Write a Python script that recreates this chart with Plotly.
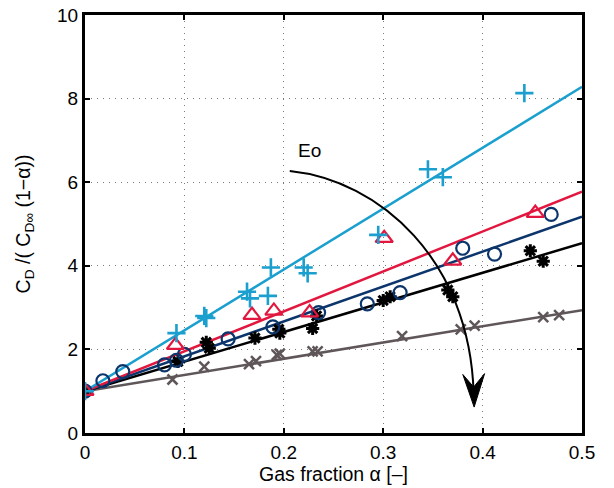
import plotly.graph_objects as go

# ---- data ----
x_plus = [0.0, 0.092, 0.12, 0.122, 0.163, 0.166, 0.184, 0.187, 0.220, 0.224, 0.295, 0.345, 0.360, 0.442]
y_plus = [1.0, 2.39, 2.80, 2.75, 3.38, 3.22, 3.28, 3.96, 3.96, 3.82, 4.74, 6.31, 6.12, 8.13]

x_tri = [0.0, 0.091, 0.168, 0.190, 0.226, 0.301, 0.370, 0.453]
y_tri = [1.0, 2.10, 2.82, 2.92, 2.88, 4.66, 4.12, 5.26]

x_circ = [0.0, 0.018, 0.038, 0.080, 0.092, 0.100, 0.144, 0.189, 0.235, 0.284, 0.317, 0.380, 0.412, 0.469]
y_circ = [1.0, 1.25, 1.47, 1.63, 1.74, 1.88, 2.25, 2.54, 2.88, 3.09, 3.36, 4.42, 4.28, 5.23]

x_ast = [0.0, 0.0935, 0.122, 0.125, 0.171, 0.195, 0.196, 0.229, 0.233, 0.300, 0.307, 0.365, 0.370, 0.448, 0.461]
y_ast = [1.0, 1.71, 2.17, 2.03, 2.27, 2.48, 2.39, 2.50, 2.80, 3.17, 3.26, 3.42, 3.26, 4.36, 4.11]

x_x = [0.0, 0.088, 0.120, 0.165, 0.172, 0.193, 0.196, 0.229, 0.234, 0.319, 0.378, 0.392, 0.461, 0.477]
y_x = [1.0, 1.28, 1.59, 1.65, 1.72, 1.87, 1.90, 1.95, 1.95, 2.32, 2.48, 2.57, 2.77, 2.82]

# fitted lines: y = 1 + k * alpha
fit_x = [0.0, 0.5]
slopes = {"plus": 14.56, "tri": 9.55, "circ": 8.35, "ast": 7.08, "x": 3.88}

colors = {"plus": "#1a9fce", "tri": "#e2173f", "circ": "#0b356b", "ast": "#000000", "x": "#5f5659"}

# Eo arrow (bezier in data coordinates)
arrow_start = (0.206, 6.27)
arrow_c1 = (0.2966, 6.05)
arrow_c2 = (0.387, 4.14)
arrow_end = (0.391, 0.95)
head_tip = (0.3915, 0.62)
head_left = (0.3801, 1.40)
head_notch = (0.391, 1.10)
head_right = (0.4020, 1.42)
eo_label_pos = (0.2255, 6.75)

x_ticks = [0, 0.1, 0.2, 0.3, 0.4, 0.5]
x_ticktext = ["0", "0.1", "0.2", "0.3", "0.4", "0.5"]
y_ticks = [0, 2, 4, 6, 8, 10]

FONT = "Liberation Sans, Arial, sans-serif"

fig = go.Figure()

series = [
    ("x", x_x, y_x, "x-thin-open", 10, 2.5),
    ("ast", x_ast, y_ast, "asterisk-open", 11, 3),
    ("circ", x_circ, y_circ, "circle-open", 13, 2.2),
    ("tri", x_tri, y_tri, "triangle-up-open", 15, 2.2),
    ("plus", x_plus, y_plus, "cross-thin-open", 13, 2.6),
]

for key, xs, ys, sym, sz, lw in series:
    k = slopes[key]
    fig.add_trace(go.Scatter(
        x=fit_x, y=[1 + k * v for v in fit_x], mode="lines",
        line=dict(color=colors[key], width=2.5), showlegend=False, hoverinfo="skip"))

for key, xs, ys, sym, sz, lw in series:
    fig.add_trace(go.Scatter(
        x=xs, y=ys, mode="markers",
        marker=dict(symbol=sym, size=sz, color=colors[key], line=dict(color=colors[key], width=lw)),
        showlegend=False))

path = "M {} {} C {} {}, {} {}, {} {}".format(
    arrow_start[0], arrow_start[1], arrow_c1[0], arrow_c1[1],
    arrow_c2[0], arrow_c2[1], arrow_end[0], arrow_end[1])
fig.add_shape(type="path", path=path, xref="x", yref="y",
              line=dict(color="black", width=2))
head = "M {} {} L {} {} L {} {} L {} {} Z".format(
    head_tip[0], head_tip[1], head_left[0], head_left[1],
    head_notch[0], head_notch[1], head_right[0], head_right[1])
fig.add_shape(type="path", path=head, xref="x", yref="y",
              line=dict(color="black", width=1), fillcolor="black")

fig.add_annotation(x=eo_label_pos[0], y=eo_label_pos[1], text="Eo", showarrow=False,
                   font=dict(size=19, color="black", family=FONT), xref="x", yref="y")

axis_common = dict(
    showline=True, linecolor="black", linewidth=3, mirror="ticks",
    ticks="inside", ticklen=5, tickwidth=2, tickcolor="black",
    showgrid=True, gridcolor="#7a7a7a", griddash="1px,5px", gridwidth=1.2,
    zeroline=False, tickfont=dict(size=19, color="black", family=FONT),
    automargin=False,
)

fig.update_xaxes(range=[0, 0.5], tickvals=x_ticks, ticktext=x_ticktext,
                 title=dict(text="Gas fraction α [–]", font=dict(size=19.5, color="black", family=FONT), standoff=4),
                 **axis_common)
fig.update_yaxes(range=[0, 10], tickvals=y_ticks,
                 title=dict(text="C<sub>D</sub> /( C<sub>D∞</sub> (1−α))",
                            font=dict(size=19.5, color="black", family=FONT), standoff=22),
                 **axis_common)

fig.update_layout(
    width=614, height=488,
    margin=dict(l=85, r=32, t=15, b=55),
    plot_bgcolor="white", paper_bgcolor="white",
    font=dict(family=FONT, color="black"),
)

fig.write_html("out.html")
